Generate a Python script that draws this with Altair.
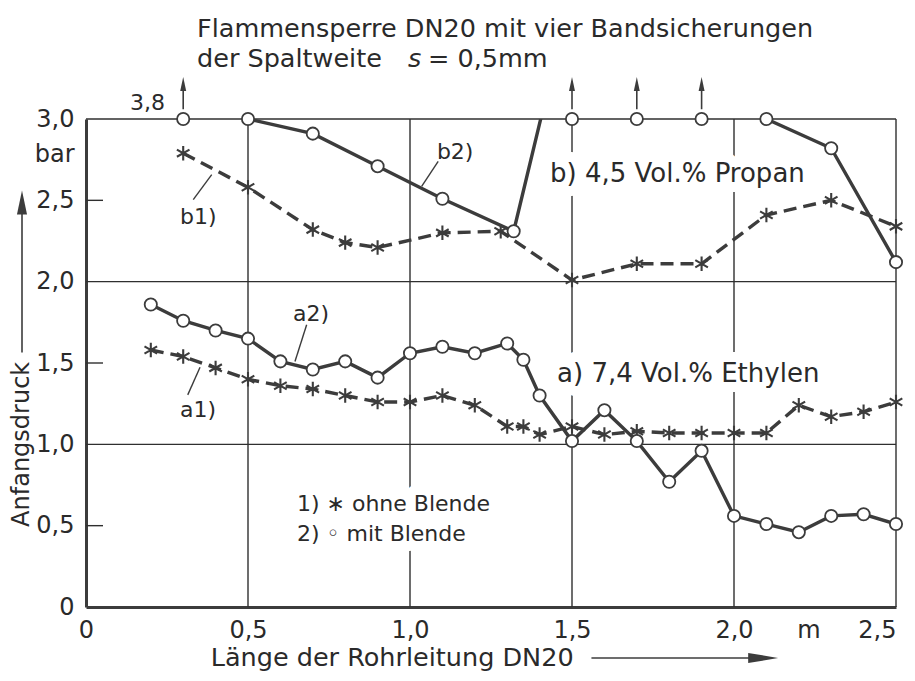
import altair as alt
import pandas as pd

# ---------------- data ----------------
title_1 = "Flammensperre DN20 mit vier Bandsicherungen"
title_2a = "der Spaltweite"
title_2s = "s"
title_2b = "= 0,5mm"

x_a = [0.2, 0.3, 0.4, 0.5, 0.6, 0.7, 0.8, 0.9, 1.0, 1.1, 1.2, 1.3, 1.35, 1.4,
       1.5, 1.6, 1.7, 1.8, 1.9, 2.0, 2.1, 2.2, 2.3, 2.4, 2.5]
a1 = [1.58, 1.54, 1.47, 1.40, 1.36, 1.34, 1.30, 1.26, 1.26, 1.30, 1.24, 1.11, 1.11, 1.06,
      1.11, 1.06, 1.08, 1.07, 1.07, 1.07, 1.07, 1.24, 1.17, 1.20, 1.26]
a2 = [1.86, 1.76, 1.70, 1.65, 1.51, 1.46, 1.51, 1.41, 1.56, 1.60, 1.56, 1.62, 1.52, 1.30,
      1.02, 1.21, 1.02, 0.77, 0.96, 0.56, 0.51, 0.46, 0.56, 0.57, 0.51]

x_b1 = [0.3, 0.5, 0.7, 0.8, 0.9, 1.1, 1.28, 1.5, 1.7, 1.9, 2.1, 2.3, 2.5]
b1 = [2.79, 2.58, 2.32, 2.24, 2.21, 2.30, 2.31, 2.01, 2.11, 2.11, 2.41, 2.50, 2.34]

x_b2 = [0.3, 0.5, 0.7, 0.9, 1.1, 1.32, 1.5, 1.7, 1.9, 2.1, 2.3, 2.5]
b2 = [3.8, 3.0, 2.91, 2.71, 2.51, 2.31, 3.8, 3.8, 3.8, 3.0, 2.82, 2.12]

x_ticks = [0, 0.5, 1.0, 1.5, 2.0, 2.23, 2.5]          # 2.23 carries the unit "m"
y_ticks = [0, 0.5, 1.0, 1.5, 2.0, 2.5, 2.78, 3.0]     # 2.78 carries the unit "bar"
grid_x = [0.5, 1.0, 1.5, 2.0, 2.5]
grid_y = [1.0, 2.0, 3.0]
minor_y = [0.5, 1.5, 2.5]

label_text = ["b2)", "b1)", "b) 4,5 Vol.% Propan", "a2)", "a1)",
              "a) 7,4 Vol.% Ethylen", "1) \u2217 ohne Blende", "2) \u25e6 mit Blende"]
label_x = [1.083, 0.29, 1.432, 0.639, 0.29, 1.454, 0.651, 0.651]
label_y = [2.80, 2.40, 2.66, 1.80, 1.21, 1.432, 0.632, 0.447]
label_size = [22, 22, 26, 22, 22, 26, 22, 22]

leader_x = [1.036, 0.388, 0.681, 0.352]
leader_y = [2.586, 2.658, 1.735, 1.474]
leader_x2 = [1.087, 0.331, 0.645, 0.314]
leader_y2 = [2.74, 2.504, 1.509, 1.304]

offscale_label = "3,8"
x_title = "Länge der Rohrleitung DN20"
y_title = "Anfangsdruck"

# ---------------- styling ----------------
W, H = 810, 488
FONT = "'DejaVu Sans', sans-serif"
INK = "#3c3c3c"
TXT = "#2a2a2a"
GRID = "#2f2f2f"
ASTERISK = "M0,-1L0,1M-0.87,-0.5L0.87,0.5M-0.87,0.5L0.87,-0.5"
HEAD_UP = "M0,-1L0.42,1L-0.42,1Z"
HEAD_RIGHT = "M1,0L-1,0.34L-1,-0.34Z"

xs = alt.Scale(domain=[0, 2.5], nice=False, zero=False)
ys = alt.Scale(domain=[0, 3], nice=False, zero=False)

x_axis = alt.Axis(values=x_ticks, title=None, grid=False, ticks=False,
                  domainWidth=3, domainColor=INK, labelFont=FONT, labelFontSize=24,
                  labelColor=TXT, labelPadding=11, labelFlush=False, labelOverlap=False,
                  labelBound=False,
                  labelAlign={"condition": {"test": "datum.value == 2.5", "value": "right"},
                              "value": "center"},
                  labelExpr="datum.value == 2.23 ? 'm' : (datum.value == 0 ? '0' : "
                            "replace(format(datum.value, '.1f'), '.', ','))")
y_axis = alt.Axis(values=y_ticks, title=None, grid=False, ticks=False,
                  domainWidth=3, domainColor=INK, labelFont=FONT, labelFontSize=24,
                  labelColor=TXT, labelPadding=12, labelFlush=False, labelOverlap=False,
                  labelBound=False,
                  labelExpr="datum.value == 2.78 ? 'bar' : (datum.value == 0 ? '0' : "
                            "replace(format(datum.value, '.1f'), '.', ','))")


def X(field="x"):
    return alt.X(f"{field}:Q", scale=xs, axis=x_axis)


def Y(field="v"):
    return alt.Y(f"{field}:Q", scale=ys, axis=y_axis)


df_a1 = pd.DataFrame({"x": x_a, "v": a1})
df_a2 = pd.DataFrame({"x": x_a, "v": a2})
df_b1 = pd.DataFrame({"x": x_b1, "v": b1})
df_b2 = pd.DataFrame({"x": x_b2, "v": b2})
df_gx = pd.DataFrame({"x": grid_x})
df_gy = pd.DataFrame({"v": grid_y})
df_my = pd.DataFrame({"v": minor_y})
df_lab = pd.DataFrame({"x": label_x, "v": label_y, "t": label_text, "fs": label_size})
df_lead = pd.DataFrame({"x": leader_x, "v": leader_y, "x2": leader_x2, "v2": leader_y2})

# grid and frame
grid_v = alt.Chart(df_gx).mark_rule(color=GRID, strokeWidth=1.4).encode(x=X())
grid_h = alt.Chart(df_gy).mark_rule(color=GRID, strokeWidth=1.4).encode(y=Y())
minor = alt.Chart(df_my).mark_rule(color=GRID, strokeWidth=1.4).encode(
    y=Y(), x=alt.value(0), x2=alt.value(17))

# halos under the labels interrupt the grid lines like in the print
halo = alt.Chart(df_lab).mark_text(align="left", baseline="middle", font=FONT,
                                   fill="white", stroke="white", strokeWidth=20,
                                   strokeJoin="round").encode(
    x=X(), y=Y(), text="t:N", size=alt.Size("fs:Q", scale=None))

# series
line_a1 = alt.Chart(df_a1).mark_line(color=INK, strokeWidth=3.4, strokeDash=[13, 7],
                                     clip=True).encode(x=X(), y=Y())
line_b1 = alt.Chart(df_b1).mark_line(color=INK, strokeWidth=3.4, strokeDash=[13, 7],
                                     clip=True).encode(x=X(), y=Y())
line_a2 = alt.Chart(df_a2).mark_line(color=INK, strokeWidth=3.4, clip=True).encode(x=X(), y=Y())
line_b2 = alt.Chart(df_b2).mark_line(color=INK, strokeWidth=3.4, clip=True).encode(x=X(), y=Y())

star_kw = dict(shape=ASTERISK, filled=False, color=INK, strokeWidth=2.1, size=210, opacity=1)
stars_a1 = alt.Chart(df_a1).mark_point(**star_kw).encode(x=X(), y=Y())
stars_b1 = alt.Chart(df_b1).mark_point(**star_kw).encode(x=X(), y=Y())

circ_kw = dict(shape="circle", filled=True, fill="white", stroke=INK, strokeWidth=1.8,
               size=150, opacity=1)
circ_a2 = alt.Chart(df_a2).mark_point(**circ_kw).encode(x=X(), y=Y())
circ_b2 = alt.Chart(df_b2).transform_calculate(vc="min(datum.v, 3)").mark_point(
    **circ_kw).encode(x=X(), y=Y("vc"))

# arrows for the values above the scale
off_shaft = alt.Chart(df_b2).transform_filter("datum.v > 3").mark_rule(
    color=INK, strokeWidth=1.6).encode(x=X(), y=alt.datum(3.06), y2=alt.datum(3.19))
off_head = alt.Chart(df_b2).transform_filter("datum.v > 3").mark_point(
    shape=HEAD_UP, filled=True, color=INK, size=200, opacity=1).encode(
    x=X(), y=alt.datum(3.215))
off_text = alt.Chart(df_b2.head(1)).mark_text(
    align="right", baseline="middle", font=FONT, fontSize=22, color=TXT).encode(
    x=alt.datum(0.244), y=alt.datum(3.10), text=alt.value(offscale_label))

# labels and leader lines
labels = alt.Chart(df_lab).mark_text(align="left", baseline="middle", font=FONT,
                                     color=TXT).encode(
    x=X(), y=Y(), text="t:N", size=alt.Size("fs:Q", scale=None))
leaders = alt.Chart(df_lead).mark_rule(color=INK, strokeWidth=1.4).encode(
    x=X(), y=Y(), x2="x2:Q", y2="v2:Q")

# axis titles with arrows
one = pd.DataFrame({"k": [0]})
XT_Y = H + 51
xt = alt.Chart(one).mark_text(align="left", baseline="middle", font=FONT, fontSize=25.5,
                              color=TXT).encode(
    x=alt.datum(0.385), y=alt.value(XT_Y), text=alt.value(x_title))
xarrow = alt.Chart(one).mark_rule(color=INK, strokeWidth=1.6).encode(
    x=alt.datum(1.56), x2=alt.datum(2.06), y=alt.value(XT_Y))
xhead = alt.Chart(one).mark_point(shape=HEAD_RIGHT, filled=True, color=INK, size=900,
                                  opacity=1).encode(x=alt.datum(2.09), y=alt.value(XT_Y))
yt = alt.Chart(one).mark_text(align="center", baseline="middle", font=FONT, fontSize=24,
                              angle=270, color=TXT).encode(
    x=alt.value(-64), y=alt.datum(1.0), text=alt.value(y_title))
yarrow = alt.Chart(one).mark_rule(color=INK, strokeWidth=1.6).encode(
    x=alt.value(-64), y=alt.datum(1.565), y2=alt.datum(2.44))
yhead = alt.Chart(one).mark_point(shape=HEAD_UP, filled=True, color=INK, size=576,
                                  opacity=1).encode(x=alt.value(-64), y=alt.datum(2.486))

# title (two lines, italic "s")
t_kw = dict(align="left", baseline="middle", font=FONT, fontSize=25.5, color=TXT)
t1 = alt.Chart(one).mark_text(**t_kw).encode(x=alt.value(111), y=alt.value(-90),
                                             text=alt.value(title_1))
t2a = alt.Chart(one).mark_text(**t_kw).encode(x=alt.value(111), y=alt.value(-60),
                                              text=alt.value(title_2a))
t2s = alt.Chart(one).mark_text(fontStyle="italic", **t_kw).encode(
    x=alt.value(322), y=alt.value(-60), text=alt.value(title_2s))
t2b = alt.Chart(one).mark_text(**t_kw).encode(x=alt.value(342), y=alt.value(-60),
                                              text=alt.value(title_2b))

chart = alt.layer(
    grid_v, grid_h, minor, halo,
    line_b1, line_a1, line_b2, line_a2,
    stars_b1, stars_a1, circ_b2, circ_a2,
    off_shaft, off_head, off_text, leaders, labels,
    xt, xarrow, xhead, yt, yarrow, yhead, t1, t2a, t2s, t2b,
).properties(
    width=W, height=H,
    padding={"left": 78, "top": 111, "right": 11, "bottom": 66},
    autosize=alt.AutoSizeParams(type="none"),
    background="white",
).configure_view(stroke="transparent")

chart.save("out.html", embed_options={"renderer": "svg", "actions": False})
